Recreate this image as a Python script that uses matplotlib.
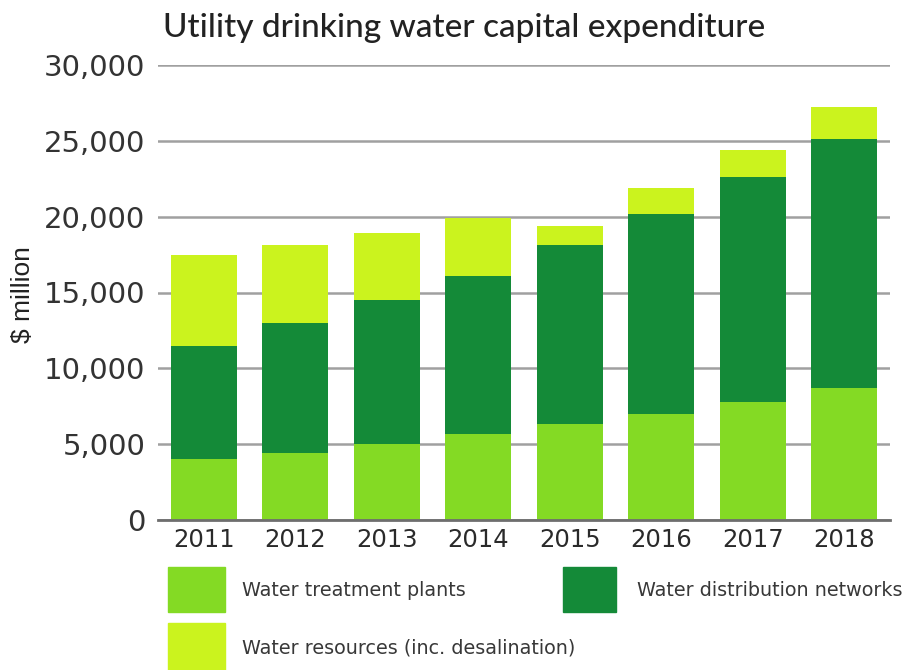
import numpy as np
import matplotlib
matplotlib.use("Agg")
import matplotlib.pyplot as plt
from matplotlib.patches import Rectangle

# values ($ million)
years = ["2011", "2012", "2013", "2014", "2015", "2016", "2017", "2018"]
treatment = [4000, 4400, 5000, 5700, 6300, 7000, 7800, 8700]
distribution_top = [11500, 13000, 14500, 16100, 18100, 20200, 22600, 25100]
total = [17500, 18100, 18900, 19900, 19400, 21900, 24400, 27200]
labels = ["Water treatment plants", "Water distribution networks",
          "Water resources (inc. desalination)"]

distribution = [d - t for d, t in zip(distribution_top, treatment)]
resources = [tot - d for tot, d in zip(total, distribution_top)]

c_treat = "#84da24"
c_dist = "#148a38"
c_res = "#cbf31e"

W, H = 910, 670
fig = plt.figure(figsize=(W / 100, H / 100), dpi=100)
ax = fig.add_axes([158 / W, 1 - 520 / H, 732 / W, 455 / H])

x = np.arange(len(years))
w = 0.72
ax.bar(x, treatment, w, color=c_treat, zorder=3)
ax.bar(x, distribution, w, bottom=treatment, color=c_dist, zorder=3)
ax.bar(x, resources, w, bottom=distribution_top, color=c_res, zorder=3)

ax.set_xlim(-0.5, len(years) - 0.5)
ax.set_ylim(0, 30000)
yt = np.arange(0, 30001, 5000)
ax.set_yticks(yt)
ax.set_yticklabels([f"{v:,}" for v in yt], fontsize=21, color="#333333",
                   family="DejaVu Sans")
ax.set_xticks(x)
ax.set_xticklabels(years, fontsize=17.5, color="#2a2a2a", family="DejaVu Sans")
ax.tick_params(axis='y', length=0, pad=9)
ax.tick_params(axis='x', length=0, pad=6)
ax.grid(axis='y', color="#a0a0a0", linewidth=1.8, zorder=0)
for s in ["top", "right", "left"]:
    ax.spines[s].set_visible(False)
ax.spines["bottom"].set_color("#6e6e6e")
ax.spines["bottom"].set_linewidth(2)
ax.spines["bottom"].set_zorder(4)

fig.text(23 / W, 1 - 295 / H, "$ million", rotation=90, fontsize=19,
         family="Liberation Sans", color="#222222", ha="center", va="center")

fig.text(163 / W, 1 - 28 / H, "Utility drinking water capital expenditure",
         fontsize=24, family="Lato", fontweight="medium", color="#222222",
         ha="left", va="center")

# legend boxes and labels
boxes = [(168, 567, 57, 45, c_treat), (563, 567, 53, 45, c_dist), (168, 623, 57, 47, c_res)]
for (bx, by, bw, bh, c) in boxes:
    fig.patches.append(Rectangle((bx / W, 1 - (by + bh) / H), bw / W, bh / H,
                                 transform=fig.transFigure, color=c, figure=fig))
text_pos = [(242, 590), (637, 590), (242, 648)]
for (tx, ty), lab in zip(text_pos, labels):
    fig.text(tx / W, 1 - ty / H, lab, fontsize=13.8, family="DejaVu Sans",
             color="#383838", ha="left", va="center")

fig.savefig("out.png", dpi=100)
